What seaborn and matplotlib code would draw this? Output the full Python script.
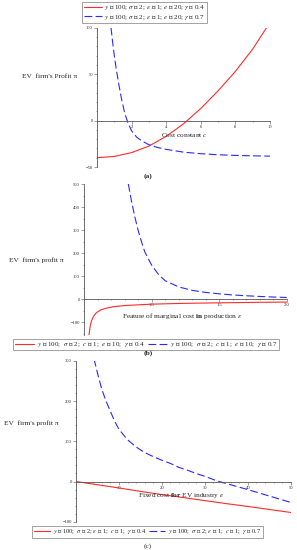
import matplotlib
matplotlib.use("Agg")
import matplotlib.pyplot as plt
import seaborn as sns
from matplotlib.ticker import MultipleLocator, FixedLocator

# (a) profit vs cost constant c
c_red = [0, 1, 2, 3, 4, 5, 6, 7, 8, 9, 9.8, 10]
pi_c_red = [-40, -38.6, -34.5, -27.5, -17, -3.5, 13, 32, 53, 77, 100, 106]
c_blue = [0.81, 0.9, 1.0, 1.1, 1.25, 1.4, 1.6, 1.8, 2.0, 2.3, 2.6, 3.0, 3.5,
          4.0, 5.0, 6.0, 7.0, 8.0, 9.0, 10.0]
pi_c_blue = [100, 85, 70, 57, 40, 25, 8, -3, -11, -18, -22, -26, -29,
             -31, -34, -35.7, -36.8, -37.5, -38, -38.3]

# (b) profit vs feature of marginal cost epsilon
eps_red = [0.537, 0.545, 0.555, 0.57, 0.59, 0.62, 0.66, 0.72, 0.8, 0.9, 1.0,
           1.2, 1.4, 1.6, 1.8, 2.0]
pi_eps_red = [-156, -120, -95, -75, -60, -48, -40, -33, -28, -25, -22,
              -19, -17, -15.5, -14, -13]
eps_blue = [0.828, 0.85, 0.875, 0.9, 0.925, 0.95, 1.0, 1.05, 1.1, 1.2, 1.3,
            1.4, 1.5, 1.6, 1.7, 1.8, 1.9, 2.0]
pi_eps_blue = [500, 430, 360, 300, 250, 205, 148, 108, 80, 53, 38,
               29, 23, 18, 14.5, 11.5, 9, 7]

# (c) profit vs fixed cost e
e_red = [0, 5, 10, 15, 20, 25, 30, 35, 40, 45, 50]
pi_e_red = [0, -8, -16, -24.5, -32.5, -40, -47.5, -55, -62, -69.5, -77]
e_blue = [4.2, 5, 6, 7, 8, 9, 10, 12, 14, 16, 18, 20, 22, 24, 26, 28, 30,
          33, 36, 40, 45, 50]
pi_e_blue = [305, 270, 230, 200, 175, 150, 130, 104, 86, 72, 62, 53, 45, 35,
             28, 20, 13, 1, -8, -20, -36, -52]

leg_a = [r"$y$ ≔ 100; $\sigma$ ≔ 2; $\varepsilon$ ≔ 1; $e$ ≔ 20; $\gamma$ ≔ 0.4",
         r"$y$ ≔ 100; $\sigma$ ≔ 2; $\varepsilon$ ≔ 1; $e$ ≔ 20; $\gamma$ ≔ 0.7"]
leg_b = [r"$y$ ≔ 100;  $\sigma$ ≔ 2;  $c$ ≔ 1;  $e$ ≔ 10;  $\gamma$ ≔ 0.4",
         r"$y$ ≔ 100;  $\sigma$ ≔ 2;  $c$ ≔ 1;  $e$ ≔ 10;  $\gamma$ ≔ 0.7"]
leg_c = [r"$y$ ≔ 100;  $\sigma$ ≔ 2; $\varepsilon$ ≔ 1;  $c$ ≔ 1;  $\gamma$ ≔ 0.4",
         r"$y$ ≔ 100;  $\sigma$ ≔ 2; $\varepsilon$ ≔ 1;  $c$ ≔ 1;  $\gamma$ ≔ 0.7"]

sns.set_style("white")
plt.rcParams['font.family'] = ['Liberation Serif', 'DejaVu Serif', 'DejaVu Sans']
plt.rcParams['mathtext.fontset'] = 'stix'

W, H = 297, 550
fig = plt.figure(figsize=(W / 100, H / 100), dpi=100)


def box(x0, x1, ytop, ybot):
    return [x0 / W, 1 - ybot / H, (x1 - x0) / W, (ybot - ytop) / H]


def px(x, y):
    return x / W, 1 - y / H


RED = '#ff2a2a'
BLUE = '#2a2aff'


def draw(ax, xr, yr, xb, yb, labels):
    sns.lineplot(x=xr, y=yr, ax=ax, color=RED, linewidth=0.8,
                 estimator=None, sort=False, label=labels[0])
    sns.lineplot(x=xb, y=yb, ax=ax, color=BLUE, linewidth=0.8,
                 estimator=None, sort=False, label=labels[1],
                 linestyle=(0, (7, 3)))


def style(ax, xlim, ylim, xt, xminor, yt, yminor):
    ax.set_xlim(*xlim)
    ax.set_ylim(*ylim)
    for s in ['top', 'right']:
        ax.spines[s].set_visible(False)
    ax.spines['bottom'].set_position(('data', 0))
    for s in ['bottom', 'left']:
        ax.spines[s].set_color('#555555')
        ax.spines[s].set_linewidth(0.6)
    ax.xaxis.set_major_locator(FixedLocator(xt))
    ax.yaxis.set_major_locator(FixedLocator(yt))
    ax.xaxis.set_minor_locator(MultipleLocator(xminor))
    ax.yaxis.set_minor_locator(MultipleLocator(yminor))
    ax.tick_params(which='both', direction='out', color='#555555', width=0.4,
                   labelsize=3.3, pad=1, bottom=True, left=True)
    ax.tick_params(which='major', length=2)
    ax.tick_params(which='minor', length=1)
    ax.set_xlabel('')
    ax.set_ylabel('')
    ax.patch.set_alpha(0)


def legend(ax, cx, cy, ncol, fs, hl):
    h, l = ax.get_legend_handles_labels()
    ax.legend(h, l, loc='center', bbox_to_anchor=px(cx, cy),
              bbox_transform=fig.transFigure, ncol=ncol, fontsize=fs,
              frameon=True, fancybox=False, edgecolor='#777777',
              borderpad=0.2, handlelength=hl, handletextpad=0.4,
              columnspacing=0.4, labelspacing=0.05, borderaxespad=0)
    ax.get_legend().get_frame().set_linewidth(0.6)


# (a)
ax_a = fig.add_axes(box(97, 270, 27.7, 167))
draw(ax_a, c_red, pi_c_red, c_blue, pi_c_blue, leg_a)
style(ax_a, (0, 10), (-50, 100), [2, 4, 6, 8, 10], 1, [-50, 0, 50, 100], 10)
legend(ax_a, 144.5, 12.5, 1, 5.0, 2.6)
fig.text(*px(50, 77), "EV  firm's Profit π", fontsize=5.3, ha='center', va='center')
fig.text(*px(184, 135), r"Cost constant $c$", fontsize=5.3, ha='center', va='center')
fig.text(*px(148, 176), "(a)", fontsize=5.3, ha='center', va='center', weight='bold')

# (b)
ax_b = fig.add_axes(box(84, 286.7, 184, 335))
draw(ax_b, eps_red, pi_eps_red, eps_blue, pi_eps_blue, leg_b)
style(ax_b, (0.5, 2), (-156, 500), [1, 1.5, 2], 0.1,
      [-100, 0, 100, 200, 300, 400, 500], 50)
legend(ax_b, 146, 344.5, 2, 5.0, 2.8)
fig.text(*px(36, 260), "EV  firm's profit π", fontsize=5.3, ha='center', va='center')
fig.text(*px(182, 316), r"Feature of marginal cost $\mathbf{in}$ production $\varepsilon$",
         fontsize=5.3, ha='center', va='center')
fig.text(*px(148, 353), "(b)", fontsize=5.3, ha='center', va='center', weight='bold')

# (c)
ax_c = fig.add_axes(box(76, 290.7, 361, 521.7))
draw(ax_c, e_red, pi_e_red, e_blue, pi_e_blue, leg_c)
style(ax_c, (0, 50), (-100, 300), [10, 20, 30, 40, 50], 2,
      [-100, 0, 100, 200, 300], 20)
legend(ax_c, 147.5, 532, 2, 4.6, 2.6)
fig.text(*px(31, 423), "EV  firm's profit π", fontsize=5.3, ha='center', va='center')
fig.text(*px(181, 495), r"Fixed cost $\mathbf{for}$ EV industry $e$",
         fontsize=5.3, ha='center', va='center')
fig.text(*px(148, 546), "(c)", fontsize=5.3, ha='center', va='center')

fig.savefig("out.png", dpi=100)
